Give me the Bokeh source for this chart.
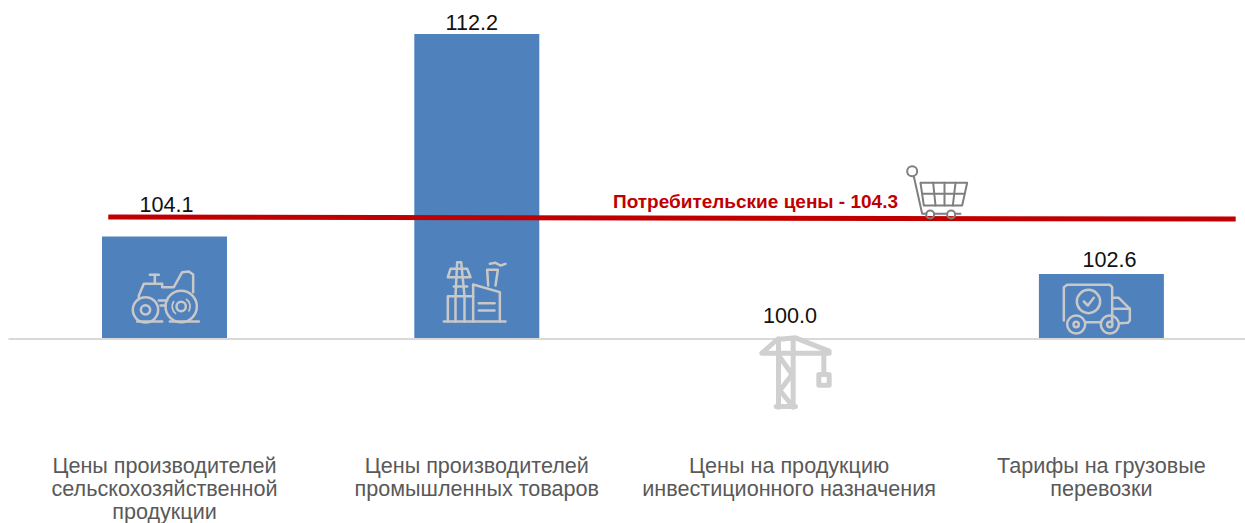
from bokeh.plotting import figure
from bokeh.models import Range1d
from bokeh.core.properties import value
from bokeh.embed import file_html
from bokeh.resources import INLINE

categories = [
    ["Цены производителей", "сельскохозяйственной", "продукции"],
    ["Цены производителей", "промышленных товаров"],
    ["Цены на продукцию", "инвестиционного назначения"],
    ["Тарифы на грузовые", "перевозки"],
]
values = [104.1, 112.2, 100.0, 102.6]
value_labels = ["104.1", "112.2", "100.0", "102.6"]
consumer_label = "Потребительские цены - 104.3"
consumer_line_x = [-0.18, 3.43]
consumer_line_y = [104.88, 104.8]

BASE = 100.0
W, H = 1245, 523
X0, XS = 164.0, 312.3
Y0, YS = 338.6, 25.0

def dx(px):
    return (px - X0) / XS

def dy(py):
    return BASE + (Y0 - py) / YS

FONT = value("Liberation Sans")

p = figure(width=W, height=H, output_backend="svg", toolbar_location=None,
           x_range=Range1d(dx(0), dx(W)), y_range=Range1d(dy(H), dy(0)),
           min_border=0, outline_line_color=None, x_axis_type=None, y_axis_type=None)
p.grid.visible = False
p.background_fill_color = "white"

idx = list(range(len(values)))
p.vbar(x=idx, top=values, bottom=BASE, width=125 / XS, fill_color="#4f81bd", line_color=None)
p.line([dx(8), dx(W)], [BASE, BASE], line_color="#d9d9d9", line_width=2)

# value labels: each is hand-placed next to its bar in the source chart (px offsets)
label_px_dx = [2, -5, 1, 8]
label_px_dy = [-32, -12, -24, -15]
for i, (v, t) in enumerate(zip(values, value_labels)):
    p.text(x=[i], y=[v], text=[t], text_font=FONT, text_font_size="21.6px",
           text_color="#111111", text_align="center", text_baseline="middle",
           x_offset=label_px_dx[i], y_offset=label_px_dy[i])

# category labels
for i, lines in enumerate(categories):
    for j, line in enumerate(lines):
        p.text(x=[i], y=[dy(465 + 23 * j)], text=[line], text_font=FONT, text_font_size="21.6px",
               text_color="#595959", text_align="center", text_baseline="middle")

# consumer price line
p.line(consumer_line_x, consumer_line_y, line_color="#c00000", line_width=5)
p.text(x=[dx(755)], y=[dy(201)], text=[consumer_label], text_font=FONT, text_font_size="19px",
       text_font_style="bold", text_color="#c00000", text_align="center", text_baseline="middle")

def zoom_path(points, ox, oy, color, lw=2.5):
    p.line([dx(ox + a / 3) for a, _ in points], [dy(oy + b / 3) for _, b in points],
           line_color=color, line_width=lw, line_join="round", line_cap="round")

def zoom_ring(cx, cy, r, ox, oy, color, lw=2.5):
    p.scatter([dx(ox + cx / 3)], [dy(oy + cy / 3)], size=2 * r / 3, marker="circle",
              fill_color=None, line_color=color, line_width=lw)

ICON = "#c8c8c8"
# tractor
for pts in [
    [(145, 205), (145, 195), (160, 160), (215, 160), (215, 170), (250, 170), (275, 125), (295, 123), (308, 132), (308, 185)],
    [(193, 160), (193, 133)], [(178, 133), (205, 133)],
    [(140, 273), (215, 273)], [(238, 273), (325, 273)],
    [(205, 210), (230, 210)], [(210, 225), (225, 225)],
]:
    zoom_path(pts, 90, 230, ICON)
zoom_ring(165, 238, 38, 90, 230, ICON)
zoom_ring(165, 238, 14, 90, 230, ICON)
zoom_ring(272, 228, 47, 90, 230, ICON)
zoom_ring(272, 228, 14, 90, 230, ICON)
p.arc(x=[dx(90 + 272 / 3)], y=[dy(230 + 228 / 3)], radius=9, radius_units="screen",
      start_angle=-0.6, end_angle=1.0, line_color=ICON, line_width=1.8)
p.arc(x=[dx(90 + 272 / 3)], y=[dy(230 + 228 / 3)], radius=9, radius_units="screen",
      start_angle=2.5, end_angle=4.1, line_color=ICON, line_width=1.8)

# factory
for pts in [
    [(1060, 273), (1245, 273)],
    [(1072, 273), (1072, 197), (1148, 197)],
    [(1095, 197), (1095, 273)], [(1122, 197), (1122, 273)],
    [(1148, 273), (1148, 162), (1228, 185), (1228, 273)],
    [(1165, 218), (1212, 218)], [(1165, 240), (1212, 240)],
    [(1095, 197), (1100, 95), (1112, 95), (1122, 197)],
    [(1072, 140), (1140, 140), (1130, 115), (1080, 115), (1072, 140)],
    [(1090, 168), (1130, 168)],
    [(1193, 165), (1190, 118), (1222, 118), (1215, 165)],
    [(1198, 100), (1215, 97), (1230, 105), (1245, 100)],
]:
    zoom_path(pts, 90, 230, ICON)

# shopping cart
CART = "#7f7f7f"
for pts in [
    [(520, 78), (545, 190), (558, 190)],
    [(582, 190), (618, 190)], [(645, 190), (660, 190)],
    [(540, 97), (680, 97), (665, 165), (550, 165), (540, 97)],
    [(545, 130), (672, 130)],
    [(578, 97), (585, 165)], [(612, 97), (612, 165)], [(645, 97), (637, 165)],
]:
    zoom_path(pts, 740, 150, CART, 2.0)
zoom_ring(515, 62, 15, 740, 150, CART, 2.0)
zoom_ring(569, 192, 12, 740, 150, CART, 2.0)
zoom_ring(632, 192, 12, 740, 150, CART, 2.0)

# crane
CRANE = "#d0d0d0"
for pts in [
    [(114, 770), (114, 565)], [(158, 770), (158, 565)], [(107, 768), (165, 768)],
    [(118, 620), (155, 672), (118, 720), (155, 765)],
    [(64, 608), (110, 567), (165, 562), (266, 602), (266, 608), (64, 608)],
    [(250, 610), (250, 668)],
    [(235, 672), (266, 672), (266, 704), (235, 704), (235, 672)],
]:
    zoom_path(pts, 740, 150, CRANE, 5.0)

# truck
for pts in [
    [(100, 240), (100, 140), (110, 133), (238, 133), (245, 140), (245, 245)],
    [(165, 245), (212, 245)],
    [(245, 172), (265, 172), (298, 205), (298, 240), (292, 247), (270, 248)],
    [(245, 205), (298, 205)],
    [(160, 183), (172, 195), (190, 172)],
]:
    zoom_path(pts, 1030, 240, ICON)
zoom_ring(137, 252, 27, 1030, 240, ICON)
zoom_ring(137, 252, 8, 1030, 240, ICON)
zoom_ring(238, 252, 27, 1030, 240, ICON)
zoom_ring(238, 252, 8, 1030, 240, ICON)
zoom_ring(174, 183, 35, 1030, 240, ICON)

open("out.html", "w").write(file_html(p, INLINE))
